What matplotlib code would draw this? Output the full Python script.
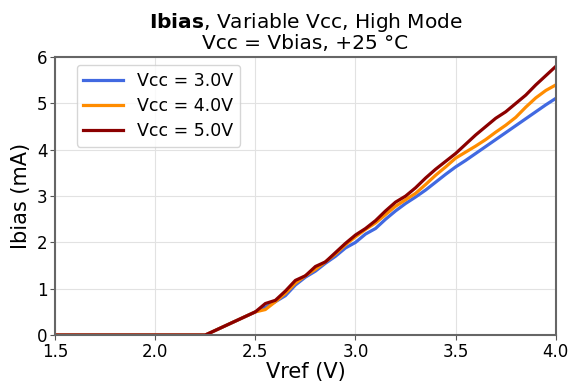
import matplotlib
matplotlib.use('Agg')
import matplotlib.pyplot as plt

vref = [1.5, 2.25, 2.5, 2.55, 2.6, 2.65, 2.7, 2.75, 2.8, 2.85, 2.9, 2.95,
        3.0, 3.05, 3.1, 3.15, 3.2, 3.25, 3.3, 3.35, 3.4, 3.45, 3.5, 3.55,
        3.6, 3.65, 3.7, 3.75, 3.8, 3.85, 3.9, 3.95, 4.0]

ibias_3v = [0, 0, 0.5, 0.6, 0.72, 0.85, 1.08, 1.25, 1.38, 1.55, 1.7, 1.88,
            2.0, 2.18, 2.3, 2.5, 2.68, 2.84, 2.98, 3.13, 3.3, 3.47, 3.63, 3.77,
            3.92, 4.07, 4.22, 4.37, 4.52, 4.67, 4.82, 4.97, 5.11]
ibias_4v = [0, 0, 0.5, 0.55, 0.72, 0.9, 1.12, 1.28, 1.42, 1.58, 1.75, 1.95,
            2.12, 2.28, 2.42, 2.6, 2.78, 2.92, 3.06, 3.25, 3.45, 3.63, 3.82, 3.95,
            4.08, 4.22, 4.38, 4.53, 4.7, 4.92, 5.12, 5.28, 5.4]
ibias_5v = [0, 0, 0.5, 0.68, 0.75, 0.95, 1.18, 1.28, 1.48, 1.58, 1.78, 1.98,
            2.16, 2.3, 2.47, 2.68, 2.87, 3.0, 3.18, 3.39, 3.58, 3.75, 3.92, 4.12,
            4.32, 4.5, 4.68, 4.82, 5.0, 5.18, 5.4, 5.6, 5.8]

series = [
    ('Vcc = 3.0V', ibias_3v, 'royalblue'),
    ('Vcc = 4.0V', ibias_4v, 'darkorange'),
    ('Vcc = 5.0V', ibias_5v, 'darkred'),
]

fig = plt.figure(figsize=(5.73, 3.86), dpi=100)
ax = fig.add_axes([0.096, 0.132, 0.874, 0.720])

for label, values, color in series:
    ax.plot(vref, values, color=color, linewidth=2.3, label=label)

ax.set_xlim(1.5, 4.0)
ax.set_ylim(0, 6)
ax.set_xticks([1.5, 2.0, 2.5, 3.0, 3.5, 4.0])
ax.set_yticks(range(7))
ax.tick_params(labelsize=12, color='#555555', pad=2)
ax.grid(color='#e2e2e2', linewidth=0.8)
for spine in ax.spines.values():
    spine.set_color('#666666')
    spine.set_linewidth(1.5)

ax.set_xlabel('Vref (V)', fontsize=15, labelpad=1)
ax.set_ylabel('Ibias (mA)', fontsize=15, labelpad=4)
ax.set_title('$\\bf{Ibias}$, Variable Vcc, High Mode\nVcc = Vbias, +25 °C',
             fontsize=14.5, pad=6, linespacing=1.0)
ax.legend(loc='upper left', bbox_to_anchor=(0.043, 0.972), borderaxespad=0,
          fontsize=12.5, handlelength=2.3, labelspacing=0.4, handletextpad=0.8)

fig.savefig('out.png', dpi=100)
